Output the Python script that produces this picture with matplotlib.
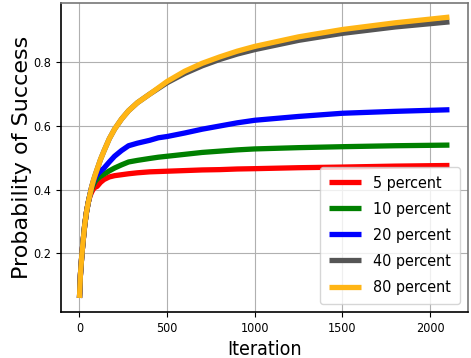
import matplotlib
matplotlib.use('Agg')
import matplotlib.pyplot as plt

plt.rcParams['font.stretch'] = 'condensed'

# iteration checkpoints
iters = [0, 5, 10, 15, 20, 30, 40, 50, 60, 70, 80, 90, 100, 120, 140, 170,
         200, 240, 280, 330, 400, 450, 500, 600, 700, 800, 900, 1000, 1250,
         1500, 1800, 2110]

# success probability per run, read at the checkpoints above
p5 = [0.06, 0.13, 0.17, 0.205, 0.235, 0.29, 0.33, 0.36, 0.38, 0.393, 0.403,
      0.408, 0.41, 0.423, 0.432, 0.44, 0.444, 0.447, 0.45, 0.453, 0.456,
      0.457, 0.458, 0.46, 0.462, 0.463, 0.465, 0.466, 0.469, 0.471, 0.474,
      0.476]
p10 = [0.06, 0.13, 0.17, 0.205, 0.235, 0.29, 0.33, 0.36, 0.385, 0.403, 0.416,
       0.426, 0.433, 0.442, 0.449, 0.459, 0.468, 0.478, 0.487, 0.492, 0.498,
       0.502, 0.505, 0.511, 0.517, 0.521, 0.525, 0.528, 0.532, 0.535, 0.538,
       0.54]
p20 = [0.06, 0.13, 0.17, 0.205, 0.235, 0.29, 0.33, 0.36, 0.385, 0.41, 0.425,
       0.437, 0.447, 0.458, 0.468, 0.487, 0.505, 0.523, 0.538, 0.546, 0.555,
       0.563, 0.567, 0.578, 0.59, 0.60, 0.61, 0.618, 0.63, 0.64, 0.646, 0.651]
p40 = [0.06, 0.13, 0.17, 0.205, 0.235, 0.29, 0.33, 0.36, 0.385, 0.41, 0.43,
       0.447, 0.463, 0.495, 0.522, 0.56, 0.59, 0.622, 0.648, 0.673, 0.70,
       0.718, 0.736, 0.765, 0.789, 0.809, 0.826, 0.84, 0.869, 0.891, 0.911,
       0.927]
p80 = [0.06, 0.13, 0.17, 0.205, 0.235, 0.29, 0.33, 0.36, 0.385, 0.41, 0.43,
       0.447, 0.463, 0.495, 0.522, 0.56, 0.59, 0.622, 0.648, 0.673, 0.70,
       0.72, 0.74, 0.772, 0.797, 0.817, 0.835, 0.85, 0.88, 0.903, 0.924,
       0.942]

labels = ['5 percent', '10 percent', '20 percent', '40 percent', '80 percent']
colors = ['red', 'green', 'blue', '#555555', '#ffb515']
series = [p5, p10, p20, p40, p80]

fig = plt.figure(figsize=(4.71, 3.58), dpi=100)
ax = fig.add_axes([0.1295, 0.1285, 0.864, 0.863])

for vals, lab, col in zip(series, labels, colors):
    ax.plot(iters, vals, color=col, linewidth=3.8, label=lab,
            solid_capstyle='butt')

ax.grid(True)
ax.set_xlabel('Iteration', fontsize=14)
# the y label runs along the uncompressed direction, so keep normal width
ax.set_ylabel('Probability of Success', fontsize=16, fontstretch='normal',
              labelpad=1)
ax.tick_params(labelsize=9)
ax.set_yticks([0.2, 0.4, 0.6, 0.8])
ax.set_xticks([0, 500, 1000, 1500, 2000])

ax.spines['left'].set_color('black')
ax.spines['bottom'].set_color('black')
ax.spines['top'].set_color('#777777')
ax.spines['right'].set_color('#777777')
for s in ax.spines.values():
    s.set_linewidth(1.2)

ax.legend(loc='lower right', fontsize=11.5, labelspacing=0.7, borderpad=0.55)

fig.savefig('out.png', dpi=100)
